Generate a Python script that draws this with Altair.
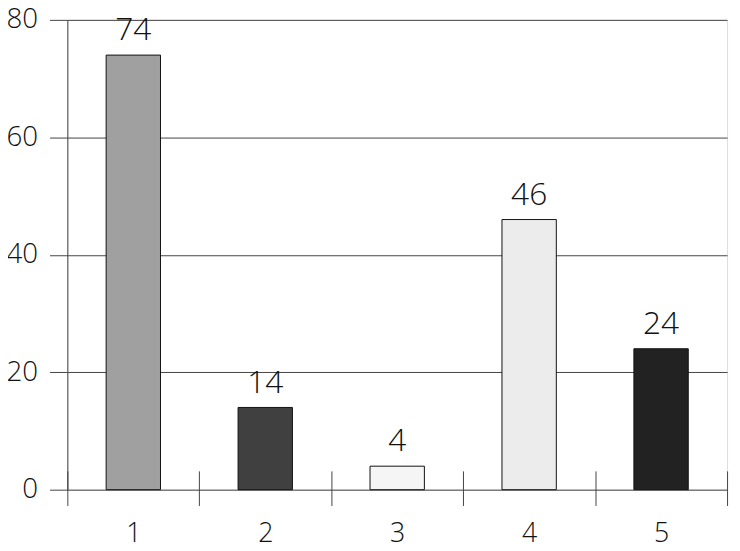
import altair as alt
import pandas as pd

categories = ["1", "2", "3", "4", "5"]
values = [74, 14, 4, 46, 24]
colors = ["#a0a0a0", "#404040", "#f5f5f5", "#ececec", "#222222"]
y_ticks = [0, 20, 40, 60, 80]

df = pd.DataFrame({"cat": categories, "val": values})

FONT = "Open Sans"
DARK = "#444444"

x = alt.X(
    "cat:N",
    sort=categories,
    scale=alt.Scale(paddingInner=0, paddingOuter=0),
    axis=alt.Axis(
        title=None,
        labelAngle=0,
        domain=False,
        grid=False,
        tickBand="extent",
        tickSize=35,
        offset=-19,
        tickColor=DARK,
        tickWidth=1,
        labelFontSize=27,
        labelFont=FONT,
        labelFontWeight=300,
        labelColor="#111111",
        labelPadding=15,
    ),
)
y = alt.Y(
    "val:Q",
    scale=alt.Scale(domain=[0, 80], nice=False),
    axis=alt.Axis(
        title=None,
        values=y_ticks,
        grid=True,
        gridColor=DARK,
        gridOpacity=1,
        gridWidth=1,
        domainColor=DARK,
        tickColor=DARK,
        tickSize=18,
        labelPadding=12,
        labelFontSize=28,
        labelFont=FONT,
        labelFontWeight=300,
        labelColor="#111111",
    ),
)

bars = alt.Chart(df).mark_bar(
    stroke="#111111", strokeWidth=1, width=alt.RelativeBandSize(0.412)
).encode(
    x=x,
    y=y,
    color=alt.Color("cat:N", scale=alt.Scale(domain=categories, range=colors), legend=None),
)

labels = alt.Chart(df).mark_text(
    dy=-15, baseline="alphabetic", fontSize=32, font=FONT, fontWeight=300, color="#111111"
).encode(
    x=alt.X("cat:N", sort=categories),
    y=alt.Y("val:Q"),
    text=alt.Text("val:Q"),
)

chart = (
    alt.layer(bars, labels)
    .properties(
        width=667,
        height=475,
        autosize=alt.AutoSizeParams(type="none"),
        padding={"left": 60, "top": 9, "right": 5, "bottom": 59},
    )
    .configure_view(stroke=DARK, strokeWidth=1)
    .configure(background="white")
)

chart.save("out.html", embed_options={"renderer": "svg", "actions": False})
